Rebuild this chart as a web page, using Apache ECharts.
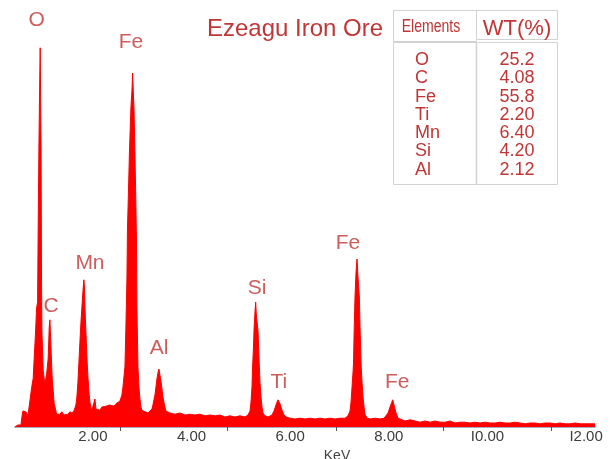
<!DOCTYPE html>
<html>
<head>
<meta charset="utf-8">
<script src="https://cdn.jsdelivr.net/npm/echarts@6/dist/echarts.min.js"></script>
<style>
html,body{margin:0;padding:0;background:#fff;}
#chart{width:613px;height:459px;}
</style>
</head>
<body>
<div id="chart"></div>
<script>
// Energy (keV) and intensity (counts)
var energyKeV = [
 0.418,0.479,0.540,0.560,0.580,0.641,0.682,0.722,0.757,0.789,0.809,0.838,0.858,0.878,0.890,0.905,0.915,0.931,0.941,0.949,0.957,0.966,0.992,1.026,1.061,1.093,1.114,1.128,1.158,1.174,1.215,1.264,
 1.290,1.331,1.371,1.412,1.452,1.493,1.533,1.574,1.615,1.635,1.655,1.675,1.696,1.716,1.736,1.757,1.777,1.797,1.817,1.828,1.838,1.858,1.878,1.899,1.919,1.939,1.959,1.980,
 2.000,2.020,2.041,2.061,2.101,2.142,2.183,2.223,2.264,2.304,2.345,2.385,2.426,2.467,2.507,2.548,2.568,2.588,2.609,2.629,2.649,2.669,2.690,2.700,2.720,2.740,2.771,2.791,2.805,2.821,2.832,2.852,2.872,2.882,2.892,2.913,2.933,2.953,2.974,2.994,
 3.055,3.116,3.156,3.197,3.217,3.237,3.258,3.278,3.298,3.318,3.339,3.359,3.379,3.400,3.420,3.440,3.460,3.481,3.521,
 3.562,3.663,3.765,3.866,3.968,4.069,4.170,4.272,4.373,4.475,4.576,4.677,4.779,4.880,4.982,5.083,5.144,
 5.164,5.185,5.205,5.225,5.239,5.256,5.266,5.286,5.300,5.316,5.347,5.373,5.387,5.408,5.428,5.448,5.489,
 5.550,5.590,5.631,5.671,5.712,5.753,5.793,5.834,5.874,5.915,
 5.996,6.097,6.199,6.300,6.402,6.503,6.604,6.706,6.807,6.909,7.010,7.112,7.172,
 7.193,7.213,7.233,7.254,7.274,7.284,7.294,7.314,7.335,7.355,7.375,7.402,7.416,7.436,7.456,7.477,7.497,7.517,7.558,
 7.619,7.720,7.822,7.903,7.943,7.984,8.024,8.079,8.105,8.146,8.187,8.227,
 8.329,8.430,8.531,8.633,8.734,8.836,8.937,9.039,9.140,9.241,9.343,9.444,9.546,9.647,9.748,9.850,9.951,10.053,10.154,10.256,10.357,10.458,10.560,10.661,10.763,10.864,10.966,11.067,11.168,11.270,11.371,11.473,11.574,11.675,11.777,11.878,11.980,12.081,12.180
];
var counts = [
 0,5,5,25,40,38,28,65,98,122,172,240,298,312,500,700,805,948,805,700,375,240,140,108,132,172,250,268,268,122,58,32,
 35,32,38,30,35,32,38,35,40,45,55,75,112,162,212,262,300,338,368,350,300,238,175,125,88,62,48,42,
 42,45,70,45,48,42,50,45,52,48,55,50,52,58,60,65,62,80,100,125,150,250,375,492,585,685,800,840,885,830,800,685,550,475,300,150,100,70,50,42,
 38,35,38,45,55,68,80,100,120,135,145,130,115,95,75,62,50,40,35,
 35,32,35,30,32,30,32,28,30,28,30,25,28,25,28,25,30,
 30,40,62,100,155,200,242,288,312,275,242,155,112,75,50,35,28,
 25,25,30,40,55,68,58,42,30,25,
 22,20,22,20,22,20,22,20,22,20,22,22,28,
 30,40,62,100,138,160,225,325,388,420,375,325,250,160,112,75,50,32,22,
 20,22,20,22,25,35,50,68,55,35,22,18,
 15,18,15,12,15,12,15,12,12,15,10,12,12,10,12,10,12,10,10,12,10,10,12,10,8,10,10,8,10,10,8,10,8,8,10,8,8,8,8
];
var tickLabelValues = [2, 4, 6, 8, 10, 12];
var tickLabels = ['2.00', '4.00', '6.00', '8.00', 'I0.00', 'I2.00'];
var tickMarkValues = [2.56, 4.73, 6.93, 9.10, 11.29];

var peakNames = ['O', 'C', 'Mn', 'Fe', 'Al', 'Si', 'Ti', 'Fe', 'Fe'];
var peakLabelKeV = [0.86, 1.15, 1.94, 2.77, 3.34, 5.33, 5.77, 7.17, 8.17];
var peakLabelCounts = [1018, 303, 410, 963, 198, 348, 113, 460, 113];

var tableElements = ['O', 'C', 'Fe', 'Ti', 'Mn', 'Si', 'Al'];
var tableWt = ['25.2', '4.08', '55.8', '2.20', '6.40', '4.20', '2.12'];

var chartTitle = 'Ezeagu Iron Ore';
var axisName = 'KeV';

var spectrum = energyKeV.map(function (e, i) { return [e, counts[i]]; });
var peakPts = peakNames.map(function (n, i) { return { name: n, value: [peakLabelKeV[i], peakLabelCounts[i]] }; });

var textColor = '#c03535';
var font = '"Liberation Sans", Arial, sans-serif';

var graphics = [];
// title
graphics.push({ type: 'text', x: 207, y: 29, style: { text: chartTitle, fill: textColor, font: '24px ' + font, align: 'left', verticalAlign: 'middle' } });
// table boxes
var border = '#d2d2d2';
graphics.push({ type: 'rect', shape: { x: 393.5, y: 10.5, width: 83, height: 31 }, style: { fill: 'none', stroke: border, lineWidth: 1 } });
graphics.push({ type: 'rect', shape: { x: 476.5, y: 10.5, width: 81, height: 29 }, style: { fill: 'none', stroke: border, lineWidth: 1 } });
graphics.push({ type: 'rect', shape: { x: 393.5, y: 42.5, width: 164, height: 142 }, style: { fill: 'none', stroke: border, lineWidth: 1 } });
graphics.push({ type: 'line', shape: { x1: 476.5, y1: 42.5, x2: 476.5, y2: 184.5 }, style: { stroke: border, lineWidth: 1.5 } });
graphics.push({ type: 'text', x: 431, y: 27, scaleX: 0.74, style: { text: 'Elements', fill: textColor, font: '19px ' + font, align: 'center', verticalAlign: 'middle' } });
graphics.push({ type: 'text', x: 517, y: 29, style: { text: 'WT(%)', fill: textColor, font: '22px ' + font, align: 'center', verticalAlign: 'middle' } });
tableElements.forEach(function (el, i) {
  var y = 60 + i * 18.3;
  graphics.push({ type: 'text', x: 415, y: y, style: { text: el, fill: textColor, font: '18px ' + font, align: 'left', verticalAlign: 'middle' } });
  graphics.push({ type: 'text', x: 517, y: y, style: { text: tableWt[i], fill: textColor, font: '18px ' + font, align: 'center', verticalAlign: 'middle' } });
});

var chart = echarts.init(document.getElementById('chart'), null, { renderer: 'canvas' });
chart.setOption({
  animation: false,
  backgroundColor: '#ffffff',
  grid: { left: 15, right: 18, top: 7, bottom: 32, containLabel: false, outerBoundsMode: 'none' },
  xAxis: {
    type: 'value',
    min: 0.42,
    max: 12.18,
    name: axisName,
    nameLocation: 'middle',
    nameGap: 19,
    nameTextStyle: { color: '#444', fontSize: 14, fontFamily: font, padding: [0, 0, 0, 64] },
    axisLine: { show: true, lineStyle: { color: '#8797a8', width: 1.5 } },
    axisTick: { show: true, length: 4, customValues: tickMarkValues, lineStyle: { color: '#555', width: 1 } },
    axisLabel: {
      show: true, margin: 2, color: '#3c3c3c', fontSize: 15, fontFamily: font,
      customValues: tickLabelValues,
      formatter: function (v) { var i = tickLabelValues.indexOf(Math.round(v)); return i >= 0 ? tickLabels[i] : ''; }
    },
    splitLine: { show: false }
  },
  yAxis: {
    type: 'value', min: 0, max: 1050, show: false, splitLine: { show: false }
  },
  series: [
    {
      type: 'line',
      data: spectrum,
      showSymbol: false,
      symbol: 'none',
      sampling: 'none',
      lineStyle: { color: '#ff0000', width: 1 },
      areaStyle: { color: '#ff0000', opacity: 1 },
      silent: true,
      z: 2
    },
    {
      type: 'scatter',
      data: peakPts,
      symbolSize: 1,
      itemStyle: { color: 'rgba(0,0,0,0)' },
      silent: true,
      label: {
        show: true, position: 'inside', formatter: '{b}',
        color: textColor, fontSize: 21, fontFamily: font
      },
      z: 3
    }
  ],
  graphic: graphics
});
</script>
</body>
</html>
